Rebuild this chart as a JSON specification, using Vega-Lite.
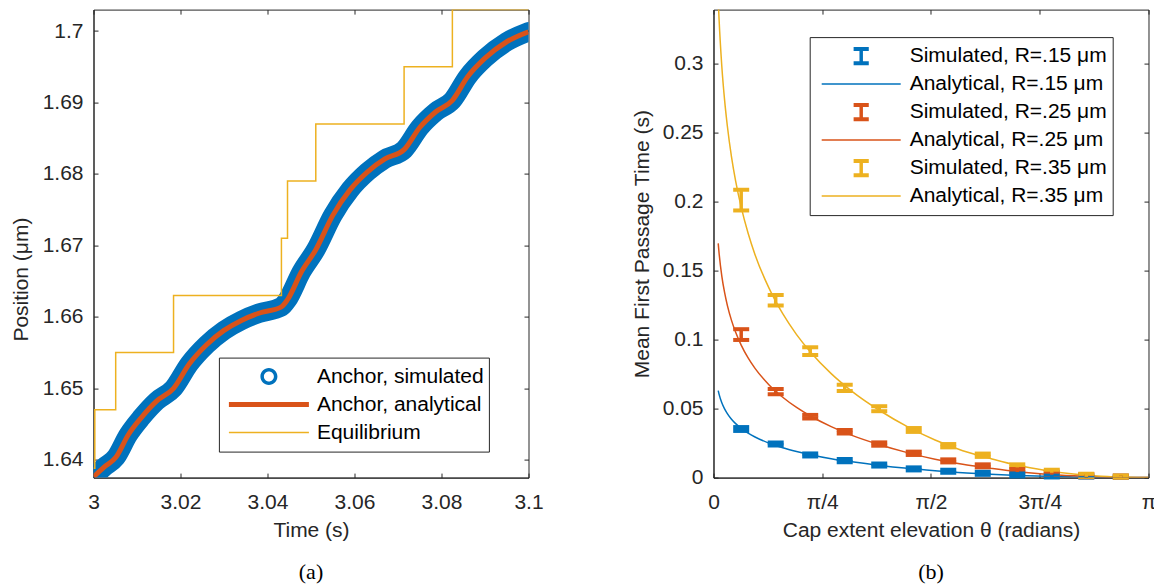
{
  "$schema": "https://vega.github.io/schema/vega-lite/v6.json",
  "background": "white",
  "padding": {"left": 9.5, "top": 5.6, "right": 0, "bottom": 0},
  "spacing": 185,
  "bounds": "flush",
  "datasets": {
    "anchor": [
      {"t": 3.0000, "pos": 1.6376}, {"t": 3.0025, "pos": 1.6390}, {"t": 3.0051, "pos": 1.6403},
      {"t": 3.0080, "pos": 1.6435}, {"t": 3.0110, "pos": 1.6459}, {"t": 3.0145, "pos": 1.6482},
      {"t": 3.0184, "pos": 1.6500}, {"t": 3.0220, "pos": 1.6534}, {"t": 3.0260, "pos": 1.6561},
      {"t": 3.0300, "pos": 1.6581}, {"t": 3.0340, "pos": 1.6595}, {"t": 3.0380, "pos": 1.6605},
      {"t": 3.0432, "pos": 1.6614}, {"t": 3.0446, "pos": 1.6624}, {"t": 3.0478, "pos": 1.6663},
      {"t": 3.0511, "pos": 1.6694}, {"t": 3.0550, "pos": 1.6742}, {"t": 3.0590, "pos": 1.6778},
      {"t": 3.0630, "pos": 1.6803}, {"t": 3.0670, "pos": 1.6821}, {"t": 3.0714, "pos": 1.6834},
      {"t": 3.0750, "pos": 1.6865}, {"t": 3.0787, "pos": 1.6887}, {"t": 3.0825, "pos": 1.6903},
      {"t": 3.0860, "pos": 1.6936}, {"t": 3.0900, "pos": 1.6962}, {"t": 3.0950, "pos": 1.6985},
      {"t": 3.1000, "pos": 1.6999}
    ],
    "eq": [
      {"t": 3.0000, "pos": 1.6388}, {"t": 3.0003, "pos": 1.6470}, {"t": 3.0051, "pos": 1.6550},
      {"t": 3.0184, "pos": 1.6630}, {"t": 3.0432, "pos": 1.6710}, {"t": 3.0446, "pos": 1.6790},
      {"t": 3.0511, "pos": 1.6870}, {"t": 3.0714, "pos": 1.6950}, {"t": 3.0825, "pos": 1.7030},
      {"t": 3.1000, "pos": 1.7030}
    ],
    "ana": [
      {"theta": 0.034, "series": "Analytical, R=.15 μm", "T": 0.0630},
      {"theta": 0.04, "series": "Analytical, R=.15 μm", "T": 0.0605},
      {"theta": 0.06, "series": "Analytical, R=.15 μm", "T": 0.0542},
      {"theta": 0.08, "series": "Analytical, R=.15 μm", "T": 0.0498},
      {"theta": 0.1, "series": "Analytical, R=.15 μm", "T": 0.0464},
      {"theta": 0.13, "series": "Analytical, R=.15 μm", "T": 0.0423},
      {"theta": 0.16, "series": "Analytical, R=.15 μm", "T": 0.0391},
      {"theta": 0.2, "series": "Analytical, R=.15 μm", "T": 0.0357},
      {"theta": 0.25, "series": "Analytical, R=.15 μm", "T": 0.0322},
      {"theta": 0.3, "series": "Analytical, R=.15 μm", "T": 0.0294},
      {"theta": 0.4, "series": "Analytical, R=.15 μm", "T": 0.0250},
      {"theta": 0.5, "series": "Analytical, R=.15 μm", "T": 0.0216},
      {"theta": 0.6, "series": "Analytical, R=.15 μm", "T": 0.0189},
      {"theta": 0.7, "series": "Analytical, R=.15 μm", "T": 0.0166},
      {"theta": 0.85, "series": "Analytical, R=.15 μm", "T": 0.0137},
      {"theta": 1.0, "series": "Analytical, R=.15 μm", "T": 0.0114},
      {"theta": 1.2, "series": "Analytical, R=.15 μm", "T": 0.0088},
      {"theta": 1.4, "series": "Analytical, R=.15 μm", "T": 0.0067},
      {"theta": 1.6, "series": "Analytical, R=.15 μm", "T": 0.0050},
      {"theta": 1.8, "series": "Analytical, R=.15 μm", "T": 0.0035},
      {"theta": 2.0, "series": "Analytical, R=.15 μm", "T": 0.0025},
      {"theta": 2.2, "series": "Analytical, R=.15 μm", "T": 0.0016},
      {"theta": 2.4, "series": "Analytical, R=.15 μm", "T": 0.0009},
      {"theta": 2.6, "series": "Analytical, R=.15 μm", "T": 0.0005},
      {"theta": 2.8, "series": "Analytical, R=.15 μm", "T": 0.0002},
      {"theta": 3.0, "series": "Analytical, R=.15 μm", "T": 0.0000},
      {"theta": 3.1416, "series": "Analytical, R=.15 μm", "T": 0.0},
      {"theta": 0.034, "series": "Analytical, R=.25 μm", "T": 0.1697},
      {"theta": 0.04, "series": "Analytical, R=.25 μm", "T": 0.1629},
      {"theta": 0.06, "series": "Analytical, R=.25 μm", "T": 0.1460},
      {"theta": 0.08, "series": "Analytical, R=.25 μm", "T": 0.1341},
      {"theta": 0.1, "series": "Analytical, R=.25 μm", "T": 0.1248},
      {"theta": 0.13, "series": "Analytical, R=.25 μm", "T": 0.1139},
      {"theta": 0.16, "series": "Analytical, R=.25 μm", "T": 0.1053},
      {"theta": 0.2, "series": "Analytical, R=.25 μm", "T": 0.0960},
      {"theta": 0.25, "series": "Analytical, R=.25 μm", "T": 0.0867},
      {"theta": 0.3, "series": "Analytical, R=.25 μm", "T": 0.0791},
      {"theta": 0.4, "series": "Analytical, R=.25 μm", "T": 0.0673},
      {"theta": 0.5, "series": "Analytical, R=.25 μm", "T": 0.0582},
      {"theta": 0.6, "series": "Analytical, R=.25 μm", "T": 0.0508},
      {"theta": 0.7, "series": "Analytical, R=.25 μm", "T": 0.0446},
      {"theta": 0.85, "series": "Analytical, R=.25 μm", "T": 0.0369},
      {"theta": 1.0, "series": "Analytical, R=.25 μm", "T": 0.0306},
      {"theta": 1.2, "series": "Analytical, R=.25 μm", "T": 0.0238},
      {"theta": 1.4, "series": "Analytical, R=.25 μm", "T": 0.0181},
      {"theta": 1.6, "series": "Analytical, R=.25 μm", "T": 0.0133},
      {"theta": 1.8, "series": "Analytical, R=.25 μm", "T": 0.0096},
      {"theta": 2.0, "series": "Analytical, R=.25 μm", "T": 0.0068},
      {"theta": 2.2, "series": "Analytical, R=.25 μm", "T": 0.0043},
      {"theta": 2.4, "series": "Analytical, R=.25 μm", "T": 0.0025},
      {"theta": 2.6, "series": "Analytical, R=.25 μm", "T": 0.0013},
      {"theta": 2.8, "series": "Analytical, R=.25 μm", "T": 0.0005},
      {"theta": 3.0, "series": "Analytical, R=.25 μm", "T": 0.0001},
      {"theta": 3.1416, "series": "Analytical, R=.25 μm", "T": 0.0},
      {"theta": 0.034, "series": "Analytical, R=.35 μm", "T": 0.3463},
      {"theta": 0.04, "series": "Analytical, R=.35 μm", "T": 0.3325},
      {"theta": 0.06, "series": "Analytical, R=.35 μm", "T": 0.2980},
      {"theta": 0.08, "series": "Analytical, R=.35 μm", "T": 0.2736},
      {"theta": 0.1, "series": "Analytical, R=.35 μm", "T": 0.2547},
      {"theta": 0.13, "series": "Analytical, R=.35 μm", "T": 0.2324},
      {"theta": 0.16, "series": "Analytical, R=.35 μm", "T": 0.2148},
      {"theta": 0.2, "series": "Analytical, R=.35 μm", "T": 0.1959},
      {"theta": 0.25, "series": "Analytical, R=.35 μm", "T": 0.1770},
      {"theta": 0.3, "series": "Analytical, R=.35 μm", "T": 0.1615},
      {"theta": 0.4, "series": "Analytical, R=.35 μm", "T": 0.1374},
      {"theta": 0.5, "series": "Analytical, R=.35 μm", "T": 0.1187},
      {"theta": 0.6, "series": "Analytical, R=.35 μm", "T": 0.1036},
      {"theta": 0.7, "series": "Analytical, R=.35 μm", "T": 0.0910},
      {"theta": 0.85, "series": "Analytical, R=.35 μm", "T": 0.0753},
      {"theta": 1.0, "series": "Analytical, R=.35 μm", "T": 0.0625},
      {"theta": 1.2, "series": "Analytical, R=.35 μm", "T": 0.0486},
      {"theta": 1.4, "series": "Analytical, R=.35 μm", "T": 0.0369},
      {"theta": 1.6, "series": "Analytical, R=.35 μm", "T": 0.0272},
      {"theta": 1.8, "series": "Analytical, R=.35 μm", "T": 0.0195},
      {"theta": 2.0, "series": "Analytical, R=.35 μm", "T": 0.0138},
      {"theta": 2.2, "series": "Analytical, R=.35 μm", "T": 0.0087},
      {"theta": 2.4, "series": "Analytical, R=.35 μm", "T": 0.0052},
      {"theta": 2.6, "series": "Analytical, R=.35 μm", "T": 0.0026},
      {"theta": 2.8, "series": "Analytical, R=.35 μm", "T": 0.0010},
      {"theta": 3.0, "series": "Analytical, R=.35 μm", "T": 0.0002},
      {"theta": 3.1416, "series": "Analytical, R=.35 μm", "T": 0.0}
    ],
    "sim": [
      {"theta": 0.2000, "series": "Simulated, R=.15 μm", "mean": 0.0352, "lo": 0.0338, "hi": 0.0366},
      {"theta": 0.4492, "series": "Simulated, R=.15 μm", "mean": 0.0243, "lo": 0.0232, "hi": 0.0254},
      {"theta": 0.6985, "series": "Simulated, R=.15 μm", "mean": 0.0164, "lo": 0.0153, "hi": 0.0175},
      {"theta": 0.9477, "series": "Simulated, R=.15 μm", "mean": 0.0123, "lo": 0.0112, "hi": 0.0134},
      {"theta": 1.1970, "series": "Simulated, R=.15 μm", "mean": 0.0091, "lo": 0.0080, "hi": 0.0102},
      {"theta": 1.4462, "series": "Simulated, R=.15 μm", "mean": 0.0063, "lo": 0.0052, "hi": 0.0074},
      {"theta": 1.6954, "series": "Simulated, R=.15 μm", "mean": 0.0046, "lo": 0.0035, "hi": 0.0057},
      {"theta": 1.9447, "series": "Simulated, R=.15 μm", "mean": 0.0031, "lo": 0.0020, "hi": 0.0042},
      {"theta": 2.1939, "series": "Simulated, R=.15 μm", "mean": 0.0019, "lo": 0.0008, "hi": 0.0030},
      {"theta": 2.4432, "series": "Simulated, R=.15 μm", "mean": 0.0012, "lo": 0.0001, "hi": 0.0023},
      {"theta": 2.6924, "series": "Simulated, R=.15 μm", "mean": 0.0005, "lo": 0.0000, "hi": 0.0016},
      {"theta": 2.9416, "series": "Simulated, R=.15 μm", "mean": 0.0002, "lo": 0.0000, "hi": 0.0013},
      {"theta": 0.2000, "series": "Simulated, R=.25 μm", "mean": 0.1036, "lo": 0.0997, "hi": 0.1075},
      {"theta": 0.4492, "series": "Simulated, R=.25 μm", "mean": 0.0622, "lo": 0.0603, "hi": 0.0641},
      {"theta": 0.6985, "series": "Simulated, R=.25 μm", "mean": 0.0441, "lo": 0.0428, "hi": 0.0454},
      {"theta": 0.9477, "series": "Simulated, R=.25 μm", "mean": 0.0332, "lo": 0.0320, "hi": 0.0344},
      {"theta": 1.1970, "series": "Simulated, R=.25 μm", "mean": 0.0243, "lo": 0.0231, "hi": 0.0255},
      {"theta": 1.4462, "series": "Simulated, R=.25 μm", "mean": 0.0176, "lo": 0.0164, "hi": 0.0188},
      {"theta": 1.6954, "series": "Simulated, R=.25 μm", "mean": 0.0121, "lo": 0.0110, "hi": 0.0132},
      {"theta": 1.9447, "series": "Simulated, R=.25 μm", "mean": 0.0085, "lo": 0.0074, "hi": 0.0096},
      {"theta": 2.1939, "series": "Simulated, R=.25 μm", "mean": 0.0051, "lo": 0.0040, "hi": 0.0062},
      {"theta": 2.4432, "series": "Simulated, R=.25 μm", "mean": 0.0032, "lo": 0.0021, "hi": 0.0043},
      {"theta": 2.6924, "series": "Simulated, R=.25 μm", "mean": 0.0014, "lo": 0.0003, "hi": 0.0025},
      {"theta": 2.9416, "series": "Simulated, R=.25 μm", "mean": 0.0004, "lo": 0.0000, "hi": 0.0015},
      {"theta": 0.2000, "series": "Simulated, R=.35 μm", "mean": 0.2010, "lo": 0.1935, "hi": 0.2085},
      {"theta": 0.4492, "series": "Simulated, R=.35 μm", "mean": 0.1285, "lo": 0.1247, "hi": 0.1323},
      {"theta": 0.6985, "series": "Simulated, R=.35 μm", "mean": 0.0916, "lo": 0.0888, "hi": 0.0944},
      {"theta": 0.9477, "series": "Simulated, R=.35 μm", "mean": 0.0650, "lo": 0.0628, "hi": 0.0672},
      {"theta": 1.1970, "series": "Simulated, R=.35 μm", "mean": 0.0499, "lo": 0.0481, "hi": 0.0517},
      {"theta": 1.4462, "series": "Simulated, R=.35 μm", "mean": 0.0345, "lo": 0.0331, "hi": 0.0359},
      {"theta": 1.6954, "series": "Simulated, R=.35 μm", "mean": 0.0231, "lo": 0.0219, "hi": 0.0243},
      {"theta": 1.9447, "series": "Simulated, R=.35 μm", "mean": 0.0162, "lo": 0.0150, "hi": 0.0174},
      {"theta": 2.1939, "series": "Simulated, R=.35 μm", "mean": 0.0085, "lo": 0.0074, "hi": 0.0096},
      {"theta": 2.4432, "series": "Simulated, R=.35 μm", "mean": 0.0046, "lo": 0.0035, "hi": 0.0057},
      {"theta": 2.6924, "series": "Simulated, R=.35 μm", "mean": 0.0017, "lo": 0.0006, "hi": 0.0028},
      {"theta": 2.9416, "series": "Simulated, R=.35 μm", "mean": 0.0004, "lo": 0.0000, "hi": 0.0015}
    ]
  },
  "hconcat": [
    {
      "width": 435,
      "height": 468,
      "title": {"text": "(a)", "orient": "bottom", "anchor": "middle", "font": "Liberation Serif", "fontSize": 22, "fontWeight": "normal", "color": "#000000", "offset": 22},
      "layer": [
        {
          "data": {"name": "anchor"},
          "mark": {"type": "line", "strokeWidth": 19.5, "strokeCap": "round", "strokeJoin": "round", "interpolate": "monotone", "clip": true},
          "encoding": {
            "x": {"field": "t", "type": "quantitative", "scale": {"domain": [3, 3.1], "nice": false, "zero": false},
                  "axis": {"orient": "bottom", "values": [3, 3.02, 3.04, 3.06, 3.08, 3.1], "format": ".2~f", "title": "Time (s)", "titleBaseline": "middle", "titleY": 52.7}},
            "y": {"field": "pos", "type": "quantitative", "scale": {"domain": [1.6375, 1.703], "nice": false, "zero": false},
                  "axis": {"orient": "left", "values": [1.64, 1.65, 1.66, 1.67, 1.68, 1.69, 1.7], "format": ".2~f", "title": "Position (μm)", "titleBaseline": "middle", "titleX": -72.3, "titleY": 269.5}},
            "color": {
              "datum": "Anchor, simulated", "type": "nominal",
              "scale": {"domain": ["Anchor, simulated", "Anchor, analytical", "Equilibrium"], "range": ["#0072BD", "#D95319", "#EDB120"]},
              "legend": {
                "orient": "none", "legendX": 125.4, "legendY": 348, "title": null,
                "labelFont": "Liberation Sans", "labelFontSize": 21, "labelColor": "#000000", "labelLimit": 500,
                "strokeColor": "#262626", "fillColor": "white", "padding": 5,
                "symbolSize": 6400, "symbolStrokeWidth": 0, "symbolOffset": 5, "labelOffset": 8,
                "clipHeight": 28, "rowPadding": 0,
                "encode": {
                  "symbols": {
                    "update": {
                      "shape": {"signal": "datum.value === 'Anchor, simulated' ? 'M0.2125,0A0.2125,0.2125,0,1,1,-0.2125,0A0.2125,0.2125,0,1,1,0.2125,0ZM0.125,0A0.125,0.125,0,1,0,-0.125,0A0.125,0.125,0,1,0,0.125,0Z' : datum.value === 'Anchor, analytical' ? 'M-1,-0.0625H1V0.0625H-1Z' : 'M-1,-0.019H1V0.019H-1Z'"},
                      "fill": {"signal": "datum.value === 'Anchor, simulated' ? '#0072BD' : datum.value === 'Anchor, analytical' ? '#D95319' : '#EDB120'"},
                      "stroke": {"value": "transparent"},
                      "strokeWidth": {"value": 0},
                      "opacity": {"value": 1}
                    }
                  }
                }
              }
            }
          }
        },
        {
          "data": {"name": "anchor"},
          "mark": {"type": "line", "strokeWidth": 5, "interpolate": "monotone", "clip": true},
          "encoding": {
            "x": {"field": "t", "type": "quantitative", "axis": null},
            "y": {"field": "pos", "type": "quantitative", "axis": null},
            "color": {"datum": "Anchor, analytical", "type": "nominal"}
          }
        },
        {
          "data": {"name": "eq"},
          "mark": {"type": "line", "strokeWidth": 1.5, "interpolate": "step-after", "clip": true},
          "encoding": {
            "x": {"field": "t", "type": "quantitative", "axis": null},
            "y": {"field": "pos", "type": "quantitative", "axis": null},
            "color": {"datum": "Equilibrium", "type": "nominal"}
          }
        },
        {
          "data": {"name": "eq"},
          "mark": {"type": "point", "opacity": 0},
          "encoding": {
            "x": {"field": "t", "type": "quantitative", "axis": {"orient": "top", "labels": false, "title": null, "domain": false, "values": [3, 3.02, 3.04, 3.06, 3.08, 3.1]}},
            "y": {"field": "pos", "type": "quantitative", "axis": {"orient": "right", "labels": false, "title": null, "domain": false, "values": [1.64, 1.65, 1.66, 1.67, 1.68, 1.69, 1.7]}}
          }
        }
      ]
    },
    {
      "width": 435,
      "height": 468,
      "title": {"text": "(b)", "orient": "bottom", "anchor": "middle", "font": "Liberation Serif", "fontSize": 22, "fontWeight": "normal", "color": "#000000", "offset": 22},
      "layer": [
        {
          "data": {"name": "ana"},
          "mark": {"type": "line", "strokeWidth": 1.5, "interpolate": "monotone", "clip": true},
          "encoding": {
            "x": {"field": "theta", "type": "quantitative", "scale": {"domain": [0, 3.141593], "nice": false, "zero": false},
                  "axis": {"orient": "bottom", "values": [0, 0.785398, 1.570796, 2.356194, 3.141593],
                           "labelExpr": "datum.value < 0.1 ? '0' : datum.value < 1 ? 'π/4' : datum.value < 2 ? 'π/2' : datum.value < 3 ? '3π/4' : 'π'",
                           "title": "Cap extent elevation θ (radians)", "titleBaseline": "middle", "titleY": 52.7}},
            "y": {"field": "T", "type": "quantitative", "scale": {"domain": [0, 0.339], "nice": false, "zero": false},
                  "axis": {"orient": "left", "values": [0, 0.05, 0.1, 0.15, 0.2, 0.25, 0.3], "format": ".2~f", "title": "Mean First Passage Time (s)", "titleBaseline": "middle", "titleX": -70.8}},
            "color": {
              "field": "series", "type": "nominal",
              "scale": {
                "domain": ["Simulated, R=.15 μm", "Analytical, R=.15 μm", "Simulated, R=.25 μm", "Analytical, R=.25 μm", "Simulated, R=.35 μm", "Analytical, R=.35 μm"],
                "range": ["#0072BD", "#0072BD", "#D95319", "#D95319", "#EDB120", "#EDB120"]
              },
              "legend": {
                "orient": "none", "legendX": 96.2, "legendY": 27.5, "title": null,
                "labelFont": "Liberation Sans", "labelFontSize": 21, "labelColor": "#000000", "labelLimit": 500,
                "strokeColor": "#262626", "fillColor": "white", "padding": 5,
                "symbolSize": 6241, "symbolStrokeWidth": 0, "symbolOffset": 7, "labelOffset": 9,
                "clipHeight": 28, "rowPadding": 0,
                "encode": {
                  "symbols": {
                    "update": {
                      "shape": {"signal": "indexof(datum.value, 'Simulated') === 0 ? 'M-0.192,-0.233H0.192V-0.132H0.044V0.132H0.192V0.233H-0.192V0.132H-0.044V-0.132H-0.192Z' : 'M-1,-0.019H1V0.019H-1Z'"},
                      "fill": {"signal": "indexof(datum.value, '.15') >= 0 ? '#0072BD' : indexof(datum.value, '.25') >= 0 ? '#D95319' : '#EDB120'"},
                      "stroke": {"value": "transparent"},
                      "strokeWidth": {"value": 0},
                      "opacity": {"value": 1}
                    }
                  }
                }
              }
            }
          }
        },
        {
          "data": {"name": "sim"},
          "mark": {"type": "errorbar", "ticks": {"size": 16, "thickness": 4, "opacity": 1}, "rule": {"strokeWidth": 3.5, "opacity": 1}},
          "encoding": {
            "x": {"field": "theta", "type": "quantitative", "axis": null},
            "y": {"field": "lo", "type": "quantitative", "axis": null},
            "y2": {"field": "hi"},
            "color": {"field": "series", "type": "nominal"}
          }
        },
        {
          "data": {"name": "sim"},
          "mark": {"type": "point", "opacity": 0},
          "encoding": {
            "x": {"field": "theta", "type": "quantitative", "axis": {"orient": "top", "labels": false, "title": null, "domain": false, "values": [0, 0.785398, 1.570796, 2.356194, 3.141593]}},
            "y": {"field": "mean", "type": "quantitative", "axis": {"orient": "right", "labels": false, "title": null, "domain": false, "values": [0, 0.05, 0.1, 0.15, 0.2, 0.25, 0.3]}}
          }
        }
      ]
    }
  ],
  "resolve": {"scale": {"color": "independent"}, "legend": {"color": "independent"}},
  "config": {
    "font": "Liberation Sans",
    "view": {"stroke": "#262626", "strokeWidth": 1},
    "axis": {
      "grid": false, "domainColor": "#262626", "domainWidth": 1,
      "tickColor": "#262626", "tickWidth": 1, "tickSize": -4.5, "labelFlush": false,
      "labelFont": "Liberation Sans", "labelFontSize": 21, "labelColor": "#262626",
      "titleFont": "Liberation Sans", "titleFontSize": 21, "titleFontWeight": "normal", "titleColor": "#262626"
    },
    "axisX": {"labelPadding": 18},
    "axisY": {"labelPadding": 15}
  }
}
